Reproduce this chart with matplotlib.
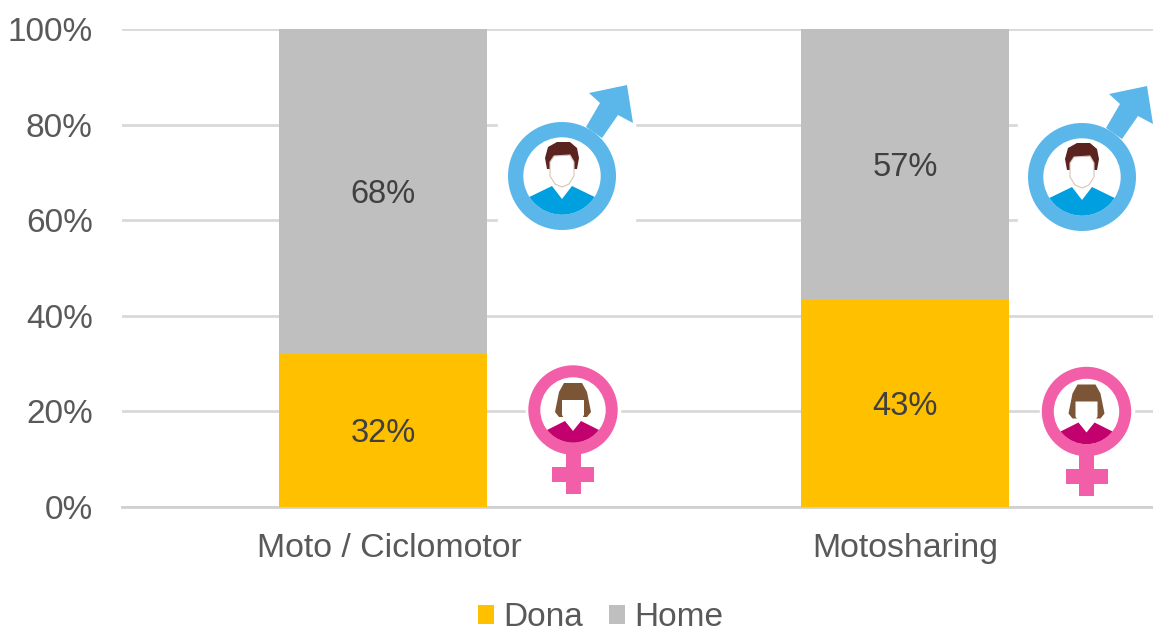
import matplotlib
matplotlib.use("Agg")
import matplotlib.pyplot as plt
from matplotlib.patches import Circle, Polygon, Rectangle, Ellipse
from matplotlib.transforms import ScaledTranslation

W, H = 1153, 629
categories = ["Moto / Ciclomotor", "Motosharing"]
dona = [32, 43.4]
home = [68, 56.6]
yticks = [0, 20, 40, 60, 80, 100]
DONA_C, HOME_C = "#FFC000", "#BFBFBF"
TXT = "#595959"
plt.rcParams["font.family"] = ["Liberation Sans", "DejaVu Sans"]

fig = plt.figure(figsize=(W / 100, H / 100), dpi=100)
ax = fig.add_axes([122 / W, 1 - 507 / H, 1044 / W, (507 - 29) / H])
ax.set_xlim(-0.5, 1.5)
ax.set_ylim(0, 100)
x = [0, 1]
width = 0.398
ax.bar(x, dona, width, color=DONA_C, label="Dona", zorder=3)
ax.bar(x, home, width, bottom=dona, color=HOME_C, label="Home", zorder=3)
for i in x:
    for val, mid in ((dona[i], dona[i] / 2), (home[i], dona[i] + home[i] / 2)):
        ax.annotate(f"{val:.0f}%", (i, mid), xytext=(0, -2), textcoords="offset points",
                    ha="center", va="center", fontsize=23.5, color="#404040", zorder=4)
ax.set_xticks(x, categories)
ax.set_yticks(yticks, [f"{v}%" for v in yticks])
ax.tick_params(axis="both", length=0, labelcolor=TXT)
ax.tick_params(axis="x", pad=19, labelsize=24.4)
ax.tick_params(axis="y", pad=21, labelsize=24)
lab0 = ax.get_xticklabels()[0]
lab0.set_transform(lab0.get_transform() + ScaledTranslation(6 / 100, 0, fig.dpi_scale_trans))
ax.grid(axis="y", color="#D9D9D9", lw=2, zorder=0)
ax.set_axisbelow(True)
for s in ["top", "right", "left"]:
    ax.spines[s].set_visible(False)
ax.spines["bottom"].set_color("#D0D0D0")
ax.spines["bottom"].set_linewidth(2)

fig.legend(loc="center", bbox_to_anchor=(600.5 / W, 1 - 618 / H), ncol=2, frameon=False,
           fontsize=24, labelcolor=TXT, handlelength=0.5, handleheight=0.5,
           handletextpad=0.27, columnspacing=0.77, borderpad=0)

# Icon overlay in pixel coordinates (y downward)
ov = fig.add_axes([0, 0, 1, 1], zorder=10)
ov.set_xlim(0, W)
ov.set_ylim(H, 0)
ov.axis("off")
ov.patch.set_alpha(0)

BLUE, PINK = "#5BB7EA", "#F25FA8"


def rel(cx, cy, pts):
    return [[cx + a, cy + b] for a, b in pts]


def male(cx, cy):
    ov.add_patch(Rectangle((cx - 64, cy - 104), 137, 163, color="white"))
    ov.add_patch(Polygon(rel(cx, cy, [(65, -91), (71, -53), (56, -61), (40, -38), (24, -49), (38, -73), (27, -83)]),
                         color=BLUE, lw=0))
    ov.add_patch(Circle((cx, cy), 54, color=BLUE, lw=0))
    inner = Circle((cx, cy), 38.7, color="white", lw=0)
    ov.add_patch(inner)
    body = Polygon(rel(cx, cy, [(-45, 27), (-10, 10), (0, 23), (10, 10), (45, 27), (45, 60), (-45, 60)]),
                   color="#009FDF", lw=0)
    ov.add_patch(body)
    body.set_clip_path(inner)
    ov.add_patch(Polygon(rel(cx, cy, [(-17, -18), (-14, -29), (-5, -34), (8, -34), (15, -28), (17, -18), (15, -7), (-15, -7)]),
                         color="#5A2320", lw=0))
    ov.add_patch(Polygon(rel(cx, cy, [(-12, -14), (-8, -20), (8, -21), (12, -14), (12, 0), (7, 8), (0, 11), (-7, 8), (-12, 0)]),
                         fc="white", ec="#D9C4B8", lw=0.8))


def female(cx, cy):
    ov.add_patch(Rectangle((cx - 47, cy - 50), 94, 140, color="white"))
    ov.add_patch(Rectangle((cx - 7.5, cy + 40), 15, 44, color=PINK, lw=0))
    ov.add_patch(Rectangle((cx - 21, cy + 57), 42, 15, color=PINK, lw=0))
    ov.add_patch(Circle((cx, cy), 44.7, color=PINK, lw=0))
    inner = Circle((cx, cy), 32.7, color="white", lw=0)
    ov.add_patch(inner)
    body = Polygon(rel(cx, cy, [(-40, 27), (-8, 11), (0, 21), (8, 11), (40, 27), (40, 50), (-40, 50)]),
                   color="#C2006E", lw=0)
    ov.add_patch(body)
    body.set_clip_path(inner)
    ov.add_patch(Polygon(rel(cx, cy, [(-9, -27), (9, -27), (14, -18), (16, -8), (18, 2), (14, 7), (-14, 7), (-18, 2), (-16, -8), (-14, -18)]),
                         color="#7B5535", lw=0))
    ov.add_patch(Polygon(rel(cx, cy, [(-11, -10), (11, -10), (11, 5), (6, 13), (0, 18), (-6, 13), (-11, 5)]),
                         color="white", lw=0))


male(562, 176)
male(1082, 177)
female(573, 410)
female(1086.5, 411.5)

fig.savefig("out.png", dpi=100)
